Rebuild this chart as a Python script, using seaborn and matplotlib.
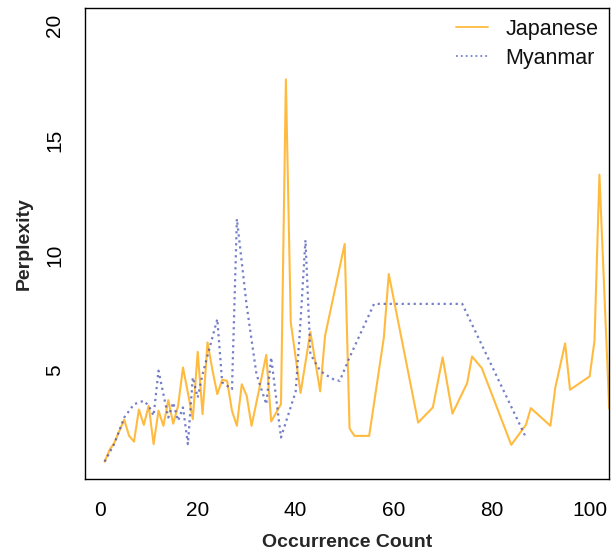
import numpy as np
import pandas as pd
import matplotlib
matplotlib.use("Agg")
import matplotlib.pyplot as plt
import seaborn as sns

# Perplexity by occurrence count
jp_count = [1, 2, 3, 5, 6, 7, 8, 9, 10, 11, 12, 13, 14, 15, 16, 17, 18, 19, 20,
            21, 22, 23, 24, 25, 26, 27, 28, 29, 30, 31, 34, 35, 37, 38, 39, 41,
            43, 45, 46, 50, 51, 52, 55, 58, 59, 65, 68, 70, 72, 75, 76, 78, 84,
            87, 88, 92, 93, 95, 96, 100, 101, 102, 104]
jp_perplexity = [1.0, 1.5, 1.83, 2.83, 2.12, 1.87, 3.27, 2.6, 3.43, 1.76, 3.22,
                 2.56, 3.68, 2.65, 3.43, 5.1, 4.0, 2.85, 5.78, 3.07, 6.19, 5.0,
                 3.94, 4.56, 4.52, 3.21, 2.56, 4.37, 3.87, 2.56, 5.65, 2.75, 3.5,
                 17.65, 7.06, 3.99, 6.65, 4.06, 6.48, 10.48, 2.44, 2.12, 2.12,
                 6.41, 9.17, 2.7, 3.36, 5.54, 3.09, 4.42, 5.58, 5.07, 1.73,
                 2.6, 3.33, 2.56, 4.23, 6.15, 4.13, 4.71, 6.27, 13.5, 3.3]

mm_count = [1, 3, 5, 7, 9, 10, 11, 12, 13, 14, 15, 16, 17, 18, 19, 20, 21, 24,
            25, 27, 28, 30, 32, 34, 35, 37, 40, 41, 42, 43, 45, 46, 48, 49, 51,
            56, 74, 87]
mm_perplexity = [1.0, 1.78, 2.92, 3.5, 3.65, 3.43, 3.0, 4.96, 3.94, 2.92, 3.57,
                 2.78, 3.36, 1.76, 4.67, 3.79, 4.81, 7.21, 4.45, 4.16, 11.57,
                 7.79, 4.81, 3.5, 5.54, 2.05, 4.05, 7.14, 10.65, 5.68, 4.96,
                 4.8, 4.55, 4.52, 5.54, 7.87, 7.87, 2.05]

sns.set_style("white")
plt.rcParams["font.family"] = ["Liberation Sans", "DejaVu Sans"]

fig = plt.figure(figsize=(6.13, 5.5), dpi=100)
ax = fig.add_axes([0.139, 0.129, 0.8545, 0.8565])

jp = pd.DataFrame({"count": jp_count, "perplexity": jp_perplexity})
mm = pd.DataFrame({"count": mm_count, "perplexity": mm_perplexity})

sns.lineplot(data=jp, x="count", y="perplexity", ax=ax, color="#FFA500",
             alpha=0.75, linewidth=1.5, label="Japanese", estimator=None,
             sort=False)
sns.lineplot(data=mm, x="count", y="perplexity", ax=ax, color="#3A48B0",
             alpha=0.7, linewidth=1.6, label="Myanmar", estimator=None,
             sort=False, dashes=False)
ax.lines[1].set_dashes([1, 1.7])

# R-style limits: data range plus 4% on each side
ax.set_xlim(1 - 0.04 * 99, 100 + 0.04 * 99)
ax.set_ylim(1 - 0.04 * 19, 20 + 0.04 * 19)
ax.set_xticks([0, 20, 40, 60, 80, 100])
ax.set_yticks([5, 10, 15, 20])

for s in ax.spines.values():
    s.set_color("black")
    s.set_linewidth(1.0)
ax.tick_params(axis="both", direction="out", length=7, width=1, color="black",
               labelsize=15, labelcolor="black")
ax.tick_params(axis="x", pad=9)
ax.tick_params(axis="y", pad=8)
for lab in ax.get_yticklabels():
    lab.set_rotation(90)
    lab.set_va("center")

ax.set_xlabel("Occurrence Count", fontsize=14, fontweight="bold", labelpad=10)
ax.set_ylabel("Perplexity", fontsize=14, fontweight="bold", labelpad=9)

leg = ax.legend(loc="upper right", frameon=False, fontsize=15.5,
                handlelength=1.5, handletextpad=0.8, labelspacing=0.38,
                borderaxespad=0.1, borderpad=0.4)
for h in leg.get_lines():
    h.set_linewidth(1.3)
for t in leg.get_texts():
    t.set_color("#111111")

fig.savefig("out.png", dpi=100)
